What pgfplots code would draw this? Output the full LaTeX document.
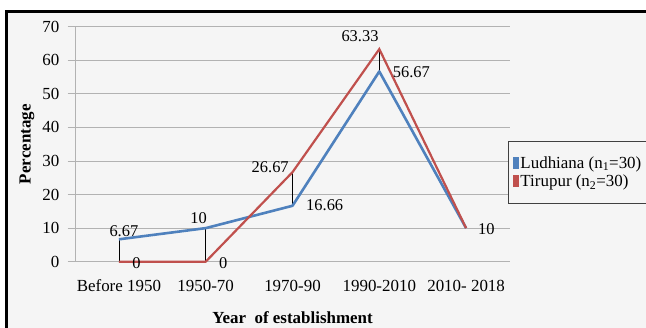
\documentclass[border=0pt]{standalone}
\usepackage{pgfplots}
\pgfplotsset{compat=1.18}
\usepackage{fontspec}
\setmainfont{Liberation Serif}

\definecolor{ludblue}{RGB}{79,129,189}
\definecolor{tirred}{RGB}{192,80,77}
\definecolor{panel}{RGB}{245,245,245}
\definecolor{gridgray}{RGB}{178,178,178}

\newcommand{\tickfont}{\fontsize{17}{20}\selectfont}
\newcommand{\lblfont}{\fontsize{16.5}{19}\selectfont}

\begin{document}
\begin{tikzpicture}[x=1bp,y=1bp]
  \clip (0,0) rectangle (646,327);
  \fill[white] (0,0) rectangle (646,327);
  % chart area with its frame
  \fill[panel] (6.5,-10) rectangle (660,315.5);
  \draw[black, line width=2.5bp] (6.5,-10) -- (6.5,315.5) -- (660,315.5);

  \begin{axis}[
    at={(75.5bp,65.3bp)}, anchor=south west,
    scale only axis, width=434bp, height=235bp,
    xmin=-0.5, xmax=4.5, ymin=0, ymax=70,
    xtick={0,1,2,3,4},
    xticklabels={Before 1950, 1950-70, 1970-90, 1990-2010, 2010- 2018},
    ytick={0,10,...,70},
    axis x line=bottom, axis y line=left,
    axis line style={gridgray, line width=0.8bp, -},
    ymajorgrids, grid style={gridgray, line width=0.8bp},
    xtick style={draw=none},
    ytick style={gridgray, line width=0.8bp},
    tick align=outside, major tick length=8bp,
    /pgf/number format/assume math mode=true,
    tick label style={font=\tickfont, inner sep=0pt},
    xticklabel style={anchor=base, yshift=-22bp},
    yticklabel style={anchor=east, xshift=-8bp},
    xlabel={Year\ \ of establishment},
    ylabel={Percentage},
    label style={font=\fontsize{17}{20}\selectfont\bfseries},
    xlabel style={at={(axis description cs:0.5,0)}, anchor=base, yshift=-62bp},
    ylabel style={at={(axis description cs:-0.1117,0.5)}, anchor=center},
    legend style={
      at={(axis description cs:0.9965,0.5135)}, anchor=north west,
      draw=black!75, line width=1bp, fill=panel,
      font=\fontsize{17}{20}\selectfont,
      inner xsep=5bp, inner ysep=14bp, row sep=3bp,
      nodes={inner sep=1bp},
    },
    legend cell align=left,
    legend image code/.code={\fill[#1, draw=none] (0bp,-6bp) rectangle (6bp,6bp);},
    clip=false,
  ]
    % high-low lines joining the two series
    \addplot[black, line width=0.8bp, forget plot] coordinates {(0,0) (0,6.67)};
    \addplot[black, line width=0.8bp, forget plot] coordinates {(1,0) (1,10)};
    \addplot[black, line width=0.8bp, forget plot] coordinates {(2,16.66) (2,26.67)};
    \addplot[black, line width=0.8bp, forget plot] coordinates {(3,56.67) (3,63.33)};

    \addplot[ludblue, line width=2.6bp, line join=round] coordinates {
      (0,6.67) (1,10) (2,16.66) (3,56.67) (4,10)};
    \addlegendentry{Ludhiana (n\textsubscript{1}=30)}

    \addplot[tirred, line width=2.2bp, line join=miter] coordinates {
      (0,0) (1,0) (2,26.67) (3,63.33) (4,10)};
    \addlegendentry{Tirupur (n\textsubscript{2}=30)}

    % data labels
    \begin{scope}[every node/.style={anchor=base, inner sep=0pt, font=\lblfont}]
      \node[xshift=5bp,   yshift=3.3bp]  at (axis cs:0,6.67)  {6.67};
      \node[xshift=-7bp,  yshift=5bp]    at (axis cs:1,10)    {10};
      \node[xshift=32.2bp,yshift=-4.9bp] at (axis cs:2,16.66) {16.66};
      \node[xshift=32bp,  yshift=-5.8bp] at (axis cs:3,56.67) {56.67};
      \node[xshift=20.3bp,yshift=-5.9bp] at (axis cs:4,10)    {10};
      \node[xshift=17.5bp,yshift=-6.3bp] at (axis cs:0,0)     {0};
      \node[xshift=17.5bp,yshift=-6.3bp] at (axis cs:1,0)     {0};
      \node[xshift=-22.3bp,yshift=-0.5bp] at (axis cs:2,26.67) {26.67};
      \node[xshift=-19.3bp,yshift=7.4bp] at (axis cs:3,63.33) {63.33};
    \end{scope}
  \end{axis}
\end{tikzpicture}
\end{document}
